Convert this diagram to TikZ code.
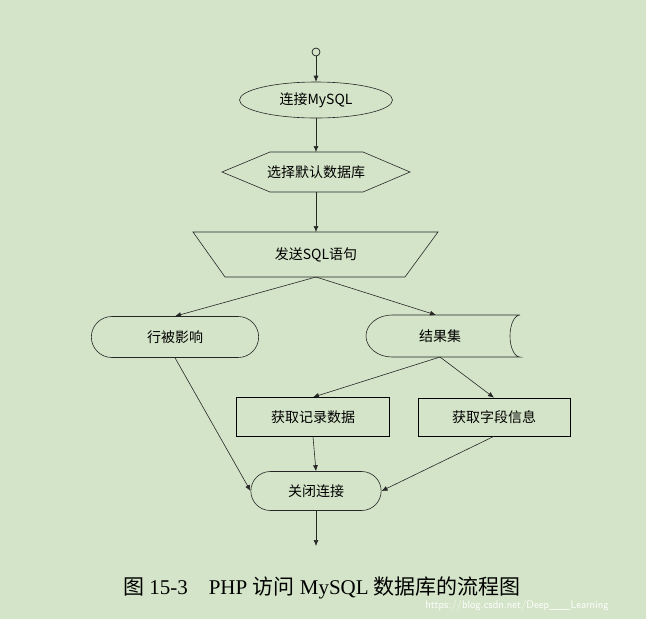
\documentclass[tikz,border=0pt]{standalone}
\usepackage{fontspec}
\setmainfont{Liberation Serif}
\newfontfamily\cjk{Noto Sans CJK SC}
\usetikzlibrary{arrows.meta,shapes.geometric,shapes.symbols,shapes.misc}
\begin{document}
\begin{tikzpicture}[x=1pt,y=-1pt,
  every node/.style={font=\cjk\fontsize{14}{16}\selectfont},
  line/.style={draw=black!85,line width=0.6pt},
  arr/.style={line,-{Latex[length=6pt,width=5pt]}}]
\fill[fill={rgb,255:red,212;green,228;blue,200}] (0,0) rectangle (646,619);
\useasboundingbox (0,0) rectangle (646,619);
% start
\node[circle,draw,line width=0.6pt,minimum size=8pt,inner sep=0pt] (s) at (316,52) {};
% ellipse
\node[ellipse,line,minimum width=153pt,minimum height=36pt,inner sep=0pt] (c) at (316,100) {连接MySQL};
% hexagon
\draw[line] (222,172)--(270,152)--(363,152)--(410,172)--(363,192)--(270,192)--cycle;
\node (h) at (316,172) {选择默认数据库};
\coordinate (ht) at (316,152); \coordinate (hb) at (316,192);
% trapezoid
\draw[line] (193,232)--(438,232)--(405,277)--(225,277)--cycle;
\node (t) at (316,255) {发送SQL语句};
\coordinate (tt) at (316,232); \coordinate (tb) at (316,277);
% stadium
\node[rounded rectangle,line,minimum width=174pt,minimum height=41pt] (r) at (175,337) {行被影响};
% result set storage shape
\draw[line] (520,315)--(392,315) arc[start angle=270,end angle=90,x radius=26,y radius=21] --(520,357)
  arc[start angle=90,end angle=270,x radius=10,y radius=21];
\node (rs) at (440,336) {结果集};
\coordinate (rst) at (436,315); \coordinate (rsb) at (440,357);
% rects
\node[draw,line width=0.6pt,minimum width=153pt,minimum height=39pt] (g1) at (313,417) {获取记录数据};
\node[draw,line width=0.6pt,minimum width=152pt,minimum height=38pt] (g2) at (494,417) {获取字段信息};
\node[rounded rectangle,line,minimum width=137pt,minimum height=39pt] (cl) at (316,491) {关闭连接};
\coordinate (end) at (316,546);
% arrows
\draw[arr] (s) -- (c);
\draw[arr] (c) -- (ht);
\draw[arr] (hb) -- (tt);
\draw[arr] (tb) -- (r.north);
\draw[arr] (tb) -- (rst);
\draw[arr] (rsb) -- (g1.north);
\draw[arr] (rsb) -- (g2.north);
\draw[arr] (r.south) -- (cl.west);
\draw[arr] (g1.south) -- (cl.north);
\draw[arr] (g2.south) -- (cl.east);
\draw[arr] (cl.south) -- (end);
% caption
\node[font=\fontsize{21}{24}\selectfont] (cap) at (322,588) {{\cjk 图} 15-3\quad PHP {\cjk 访问} MySQL {\cjk 数据库的流程图}};
\node[font=\fontsize{11}{12}\selectfont\sffamily,text=white] (wm) at (517,606) {https://blog.csdn.net/Deep\_\_\_Learning};
\end{tikzpicture}
\end{document}
